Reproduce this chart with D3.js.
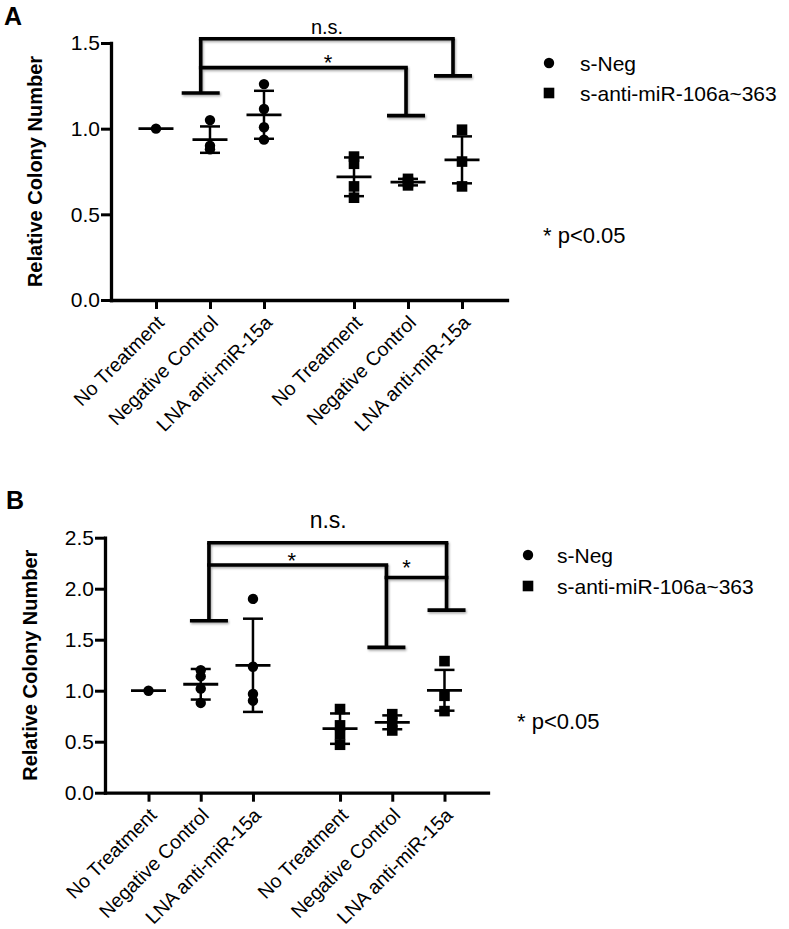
<!DOCTYPE html>
<html>
<head>
<meta charset="utf-8">
<script src="https://cdn.jsdelivr.net/npm/d3@7"></script>
<style>
  html, body { margin: 0; padding: 0; background: #fff; }
  svg { display: block; }
</style>
</head>
<body>
<div id="chart"></div>
<script>
// ---------------- DATA ----------------
const categories = ["No Treatment", "Negative Control", "LNA anti-miR-15a",
                    "No Treatment", "Negative Control", "LNA anti-miR-15a"];
const seriesNames = ["s-Neg", "s-anti-miR-106a~363"];
const groupSeries = [0, 0, 0, 1, 1, 1];           // which series each category belongs to
const yTicksA = [0.0, 0.5, 1.0, 1.5];
const yTicksB = [0.0, 0.5, 1.0, 1.5, 2.0, 2.5];
const yTitle = "Relative Colony Number";
const pNote = "* p<0.05";

// Panel A (individual points, mean, SD)
const pointsA = [[1.0], [1.05, 0.90, 0.88], [1.26, 1.115, 1.008, 0.936],
                 [0.837, 0.795, 0.663, 0.597], [0.707, 0.688, 0.669], [0.994, 0.808, 0.663]];
const meanA = [1.0, 0.936, 1.081, 0.719, 0.688, 0.818];
const sdA   = [0, 0.077, 0.14, 0.113, 0.019, 0.137];

// Panel B
const pointsB = [[1.0], [1.20, 1.14, 1.02, 0.88], [1.90, 1.235, 0.968, 0.902],
                 [0.82, 0.66, 0.57, 0.47], [0.77, 0.69, 0.61], [1.29, 0.95, 0.80]];
const meanB = [1.0, 1.063, 1.249, 0.628, 0.69, 1.004];
const sdB   = [0, 0.15, 0.457, 0.149, 0.068, 0.20];

// Significance brackets (x in category-position units, y in data units)
const bracketsA = [
  { x1: 0.828, x2: 5.5,  top: 1.525, leg1: 1.208, leg2: 1.308, label: "n.s.", lx: 3.167, ly: 1.554 },
  { x1: 0.828, x2: 4.63, top: 1.356, leg1: null,  leg2: 1.076, label: "*",    lx: 3.185, ly: 1.345 }
];
const bracketsB = [
  { x1: 1.157, x2: 5.706, top: 2.45,  leg1: 1.686, leg2: 1.79,  label: "n.s.", lx: 3.44,  ly: 2.595 },
  { x1: 1.157, x2: 4.555, top: 2.232, leg1: null,  leg2: 1.425, label: "*",    lx: 2.745, ly: 2.20 },
  { x1: 4.555, x2: 5.706, top: 2.11,  leg1: null,  leg2: null,  label: "*",    lx: 4.94,  ly: 2.135 }
];

// ---------------- LAYOUT ----------------
const W = 789, H = 929;
const FONT = "'Liberation Sans', Arial, Helvetica, sans-serif";
const GAP = 0.667;
const posOf = i => i + (i >= 3 ? GAP : 0);

const svg = d3.select("#chart").append("svg")
  .attr("width", W).attr("height", H)
  .attr("font-family", FONT);

const defs = svg.append("defs");
defs.append("filter").attr("id", "shadow")
  .attr("x", "-20%").attr("y", "-20%").attr("width", "140%").attr("height", "160%")
  .append("feDropShadow")
  .attr("dx", 1).attr("dy", 1.5).attr("stdDeviation", 1.2)
  .attr("flood-color", "#000").attr("flood-opacity", 0.35);

function drawPanel(cfg) {
  const g = svg.append("g");
  const x = d3.scaleLinear().domain([-0.833, 6.5]).range([cfg.x0, cfg.x1]);
  const y = d3.scaleLinear().domain([0, cfg.yMax]).range([cfg.yBottom, cfg.yTop]);

  // panel letter
  g.append("text").attr("x", cfg.letterX).attr("y", cfg.letterY)
    .attr("font-size", 25).attr("font-weight", "bold").text(cfg.letter);

  // y axis
  const ya = g.append("g").attr("transform", `translate(${cfg.x0},0)`)
    .call(d3.axisLeft(y).tickValues(cfg.yTicks).tickFormat(d3.format(".1f"))
      .tickSize(10).tickSizeOuter(0).tickPadding(1));
  ya.select(".domain").attr("stroke-width", 3.3).attr("stroke-linecap", "square");
  ya.selectAll(".tick line").attr("stroke-width", 3);
  ya.selectAll(".tick text").attr("font-size", 21).attr("font-family", FONT).attr("fill", "#000");

  // x axis
  const positions = categories.map((c, i) => posOf(i));
  const xa = g.append("g").attr("transform", `translate(0,${cfg.yBottom})`)
    .call(d3.axisBottom(x).tickValues(positions).tickFormat((d, i) => categories[i])
      .tickSize(9).tickSizeOuter(0));
  xa.select(".domain").attr("stroke-width", 3.3).attr("stroke-linecap", "square");
  xa.selectAll(".tick line").attr("stroke-width", 3);
  xa.selectAll(".tick text")
    .attr("font-size", 19.5).attr("font-family", FONT).attr("fill", "#000")
    .attr("text-anchor", "end")
    .attr("y", 0).attr("dy", "0.35em")
    .attr("transform", "translate(4,19) rotate(-45)");

  // y title
  g.append("text")
    .attr("transform", `translate(${cfg.titleX},${(cfg.yTop + cfg.yBottom) / 2 + cfg.titleDy}) rotate(-90)`)
    .attr("text-anchor", "middle").attr("font-size", 20).attr("font-weight", "bold")
    .text(yTitle);

  // data groups
  const groups = categories.map((c, i) => ({
    i, p: posOf(i), pts: cfg.points[i], mean: cfg.mean[i], sd: cfg.sd[i], s: groupSeries[i]
  }));
  const gg = g.selectAll(".grp").data(groups).join("g").attr("class", "grp");

  // points
  gg.each(function (d) {
    const sel = d3.select(this);
    if (d.s === 0) {
      sel.selectAll("circle").data(d.pts).join("circle")
        .attr("cx", x(d.p)).attr("cy", v => y(v)).attr("r", 5.2).attr("fill", "#000");
    } else {
      sel.selectAll("rect").data(d.pts).join("rect")
        .attr("x", x(d.p) - 5.3).attr("y", v => y(v) - 5.3)
        .attr("width", 10.6).attr("height", 10.6).attr("fill", "#000");
    }
  });
  // mean line
  gg.append("line")
    .attr("x1", d => x(d.p) - 17.5).attr("x2", d => x(d.p) + 17.5)
    .attr("y1", d => y(d.mean)).attr("y2", d => y(d.mean))
    .attr("stroke", "#000").attr("stroke-width", 2.8);
  // sd
  const eb = gg.filter(d => d.sd > 0);
  eb.append("line")
    .attr("x1", d => x(d.p)).attr("x2", d => x(d.p))
    .attr("y1", d => y(d.mean - d.sd)).attr("y2", d => y(d.mean + d.sd))
    .attr("stroke", "#000").attr("stroke-width", 2.5);
  eb.selectAll(".cap").data(d => [[d.p, d.mean - d.sd], [d.p, d.mean + d.sd]]).join("line")
    .attr("class", "cap")
    .attr("x1", c => x(c[0]) - 10).attr("x2", c => x(c[0]) + 10)
    .attr("y1", c => y(c[1])).attr("y2", c => y(c[1]))
    .attr("stroke", "#000").attr("stroke-width", 2.5);

  // brackets
  const bg = g.append("g").attr("filter", "url(#shadow)")
    .attr("stroke", "#000").attr("stroke-width", 3.6).attr("fill", "none")
    .attr("stroke-linecap", "butt");
  cfg.brackets.forEach(b => {
    bg.append("line").attr("x1", x(b.x1) - 1.8).attr("x2", x(b.x2) + 1.8)
      .attr("y1", y(b.top)).attr("y2", y(b.top));
    [[b.x1, b.leg1], [b.x2, b.leg2]].forEach(([bx, leg]) => {
      if (leg === null) return;
      bg.append("line").attr("x1", x(bx)).attr("x2", x(bx))
        .attr("y1", y(b.top)).attr("y2", y(leg));
      bg.append("line").attr("x1", x(bx) - 19).attr("x2", x(bx) + 19)
        .attr("y1", y(leg)).attr("y2", y(leg));
    });
  });
  g.selectAll(".blabel").data(cfg.brackets).join("text").attr("class", "blabel")
    .attr("x", b => x(b.lx)).attr("y", b => y(b.ly))
    .attr("text-anchor", "middle")
    .attr("font-size", b => b.label === "*" ? 22 : cfg.nsSize)
    .text(b => b.label);

  // legend
  const lg = g.append("g");
  seriesNames.forEach((name, k) => {
    const cy = cfg.legY + k * cfg.legStep;
    if (k === 0) {
      lg.append("circle").attr("cx", cfg.legX).attr("cy", cy).attr("r", 5.2).attr("fill", "#000");
    } else {
      lg.append("rect").attr("x", cfg.legX - 5.3).attr("y", cy - 5.3)
        .attr("width", 10.6).attr("height", 10.6).attr("fill", "#000");
    }
    lg.append("text").attr("x", cfg.legTextX).attr("y", cy + 7.5)
      .attr("font-size", 21).text(name);
  });
  g.append("text").attr("x", cfg.noteX).attr("y", cfg.noteY)
    .attr("font-size", 22).text(pNote);
}

drawPanel({
  letter: "A", letterX: 4, letterY: 25,
  x0: 111, x1: 507, yTop: 43, yBottom: 300, yMax: 1.5, yTicks: yTicksA,
  titleX: 42, titleDy: 0,
  points: pointsA, mean: meanA, sd: sdA, brackets: bracketsA, nsSize: 20,
  legX: 549, legY: 63, legStep: 30, legTextX: 580,
  noteX: 543, noteY: 243
});
drawPanel({
  letter: "B", letterX: 6, letterY: 509,
  x0: 105, x1: 488, yTop: 537.7, yBottom: 792.7, yMax: 2.5, yTicks: yTicksB,
  titleX: 37, titleDy: 0,
  points: pointsB, mean: meanB, sd: sdB, brackets: bracketsB, nsSize: 23,
  legX: 528, legY: 555, legStep: 31, legTextX: 557,
  noteX: 517, noteY: 729
});
</script>
</body>
</html>
